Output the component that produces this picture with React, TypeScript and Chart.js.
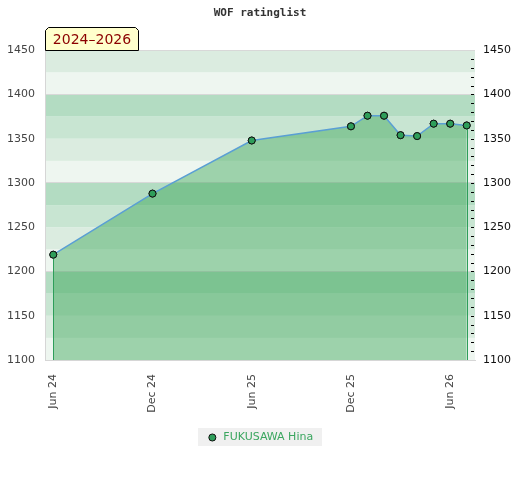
import React, { useEffect, useRef } from 'react';
import { Chart, registerables } from 'chart.js';

Chart.register(...registerables);

const chartTitle = 'WOF ratinglist';
const periodLabel = '2024–2026';
const playerName = 'FUKUSAWA Hina';

const ratingMonths = ['2024-06', '2024-12', '2025-06', '2025-12', '2026-01', '2026-02', '2026-03', '2026-04', '2026-05', '2026-06', '2026-07'];
const ratings = [1219, 1288, 1348, 1364, 1376, 1376, 1354, 1353, 1367, 1367, 1365];

const xTickMonths = [0, 6, 12, 18, 24];
const xTickLabels = ['Jun 24', 'Dec 24', 'Jun 25', 'Dec 25', 'Jun 26'];

const yMin = 1100;
const yMax = 1450;
const yStep = 50;

const bandColors = ['#b3dcc2', '#c8e5d2', '#dbece0', '#eef6f0'];

const monthIndex = (s: string) => {
  const [y, m] = s.split('-').map(Number);
  return (y - 2024) * 12 + (m - 6);
};

const FONT = "'DejaVu Sans', Verdana, sans-serif";

const bandsPlugin = {
  id: 'bands',
  beforeDraw(chart: any) {
    const { ctx, chartArea, scales } = chart;
    const y = scales.y;
    ctx.save();
    for (let v = yMin; v < yMax; v += 25) {
      const t = v + 25;
      const idx = ((100 - (t % 100)) % 100) / 25;
      const top = y.getPixelForValue(t);
      const bot = y.getPixelForValue(v);
      ctx.fillStyle = bandColors[idx];
      ctx.fillRect(chartArea.left, top, chartArea.right - chartArea.left, bot - top);
    }
    const lg = chart.legend;
    if (lg && lg.legendHitBoxes && lg.legendHitBoxes.length) {
      const hb = lg.legendHitBoxes[0];
      ctx.fillStyle = '#f0f0f0';
      ctx.fillRect(Math.round(hb.left - 9), Math.round(hb.top - 4), Math.round(hb.width + 18), 18);
    }
    ctx.restore();
  },
};

const overlayPlugin = {
  id: 'overlay',
  afterDatasetsDraw(chart: any) {
    const { ctx, chartArea, scales } = chart;
    const y = scales.y;
    const meta = chart.getDatasetMeta(0);
    ctx.save();
    ctx.strokeStyle = '#2e9e5a';
    ctx.lineWidth = 1;
    const pts = [meta.data[0], meta.data[meta.data.length - 1]];
    pts.forEach((p: any) => {
      const x = Math.round(p.x) + 0.5;
      ctx.beginPath();
      ctx.moveTo(x, p.y);
      ctx.lineTo(x, chartArea.bottom);
      ctx.stroke();
    });
    meta.data.forEach((p: any) => p.draw(ctx, chartArea));
    ctx.strokeStyle = '#000';
    ctx.lineWidth = 1;
    for (let v = yMin + 10; v < yMax; v += 10) {
      const py = Math.round(y.getPixelForValue(v)) + 0.5;
      ctx.beginPath();
      ctx.moveTo(chartArea.right - 4, py);
      ctx.lineTo(chartArea.right - 1, py);
      ctx.stroke();
    }
    ctx.restore();
  },
  afterDraw(chart: any) {
    const { ctx, chartArea } = chart;
    ctx.save();
    ctx.font = `14px ${FONT}`;
    const tw = ctx.measureText(periodLabel).width;
    const x0 = chartArea.left + 0.5;
    const x1 = Math.round(chartArea.left + tw + 15) + 0.5;
    const y0 = 27.5;
    const y1 = Math.round(chartArea.top) + 0.5;
    const c = 3;
    ctx.beginPath();
    ctx.moveTo(x0, y1);
    ctx.lineTo(x0, y0 + c);
    ctx.lineTo(x0 + c, y0);
    ctx.lineTo(x1 - c, y0);
    ctx.lineTo(x1, y0 + c);
    ctx.lineTo(x1, y1);
    ctx.closePath();
    ctx.fillStyle = '#ffffcc';
    ctx.fill();
    ctx.strokeStyle = '#000';
    ctx.lineWidth = 1;
    ctx.stroke();
    ctx.fillStyle = '#8b0000';
    ctx.textBaseline = 'middle';
    ctx.textAlign = 'center';
    ctx.fillText(periodLabel, (x0 + x1) / 2, (y0 + y1) / 2 + 1);
    ctx.restore();
  },
};

export default function App() {
  const ref = useRef<HTMLCanvasElement>(null);
  useEffect(() => {
    if (!ref.current) return;
    const pointColor = '#2e9e5a';
    const chart = new Chart(ref.current, {
      type: 'line',
      data: {
        datasets: [
          {
            label: playerName,
            data: ratingMonths.map((m, i) => ({ x: monthIndex(m), y: ratings[i] })),
            borderColor: '#5a9fd4',
            borderWidth: 1.5,
            backgroundColor: 'rgba(50,163,81,0.43)',
            fill: 'start',
            tension: 0,
            pointRadius: 3.5,
            pointBackgroundColor: pointColor,
            pointBorderColor: '#111',
            pointBorderWidth: 1,
          },
        ],
      },
      options: {
        responsive: false,
        animation: false,
        layout: { padding: { top: 0, left: 0, right: 0, bottom: 27 } },
        plugins: {
          tooltip: { enabled: false },
          title: {
            display: true,
            text: chartTitle,
            color: '#333',
            font: { family: "'DejaVu Sans Mono', monospace", size: 11, weight: 'bold' },
            padding: { top: 7, bottom: 30 },
          },
          legend: {
            position: 'bottom',
            labels: {
              usePointStyle: true,
              pointStyle: 'circle',
              boxHeight: 5,
              boxWidth: 12,
              color: '#3aa65f',
              font: { family: FONT, size: 11 },
              padding: 10,
              generateLabels: (ch: any) => {
                const items = (Chart as any).defaults.plugins.legend.labels.generateLabels(ch);
                items.forEach((it: any) => {
                  it.fillStyle = pointColor;
                  it.strokeStyle = '#111';
                  it.lineWidth = 1;
                  it.fontColor = '#3aa65f';
                });
                return items;
              },
            },
          },
        },
        scales: {
          x: {
            type: 'linear',
            position: 'bottom',
            min: -0.5,
            max: 25.5,
            afterBuildTicks: (s: any) => {
              s.ticks = xTickMonths.map((v) => ({ value: v }));
            },
            afterFit: (s: any) => {
              s.height = 62;
            },
            ticks: {
              autoSkip: false,
              minRotation: 90,
              maxRotation: 90,
              color: '#444',
              font: { family: FONT, size: 11 },
              padding: 6,
              callback: (v: any) => {
                const i = xTickMonths.indexOf(Number(v));
                return i >= 0 ? xTickLabels[i] : '';
              },
            },
            grid: { display: false },
            border: { display: true, color: '#d6d6d6' },
          },
          y: {
            position: 'left',
            min: yMin,
            max: yMax,
            afterFit: (s: any) => {
              s.width = 45;
            },
            ticks: {
              stepSize: yStep,
              color: '#444',
              font: { family: FONT, size: 11 },
              padding: 10,
              callback: (v: any) => String(v),
            },
            grid: {
              drawTicks: false,
              color: (c: any) => (c.tick && (c.tick.value % 100 === 0 || c.tick.value === yMax) ? '#d8d8d8' : 'rgba(0,0,0,0)'),
            },
            border: { display: true, color: '#d6d6d6' },
          },
          y2: {
            position: 'right',
            min: yMin,
            max: yMax,
            afterFit: (s: any) => {
              s.width = 45;
            },
            ticks: {
              stepSize: yStep,
              color: '#111',
              font: { family: FONT, size: 11 },
              padding: 8,
              callback: (v: any) => String(v),
            },
            grid: { display: false, drawTicks: false },
            border: { display: false },
          },
        },
      },
      plugins: [bandsPlugin, overlayPlugin],
    } as any);
    return () => chart.destroy();
  }, []);
  return (
    <div style={{ position: 'absolute', left: 0, top: 0, width: 520, height: 480, background: '#fff' }}>
      <canvas ref={ref} width={520} height={480} />
    </div>
  );
}
